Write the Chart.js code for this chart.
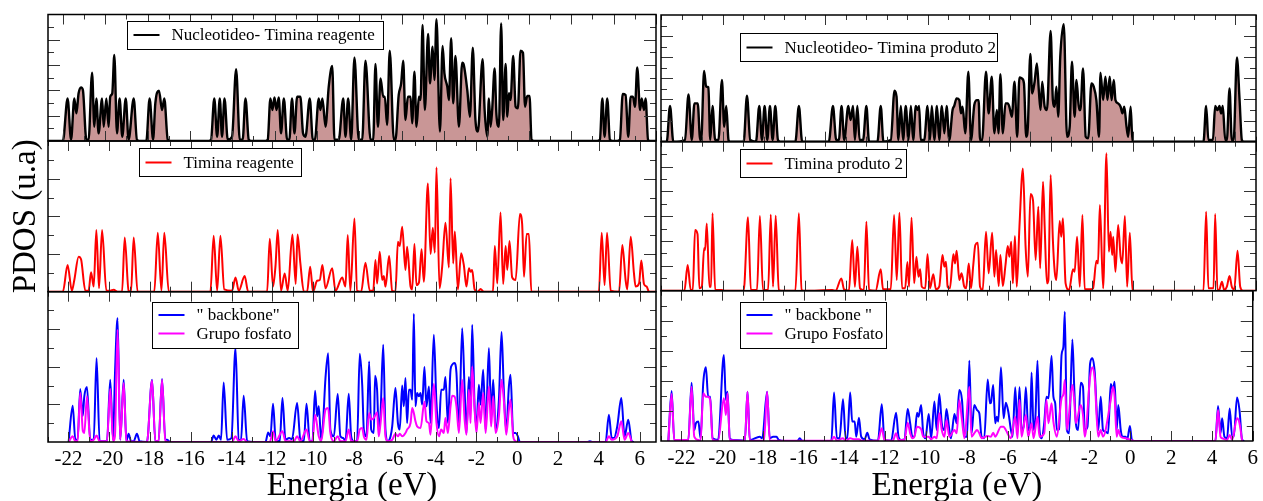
<!DOCTYPE html>
<html>
<head>
<meta charset="utf-8">
<script src="https://cdn.jsdelivr.net/npm/chart.js@4.4.1/dist/chart.umd.min.js"></script>
<style>
html, body { margin: 0; padding: 0; background: #fff; width: 1263px; height: 501px; overflow: hidden; }
canvas { position: absolute; }
</style>
</head>
<body>
<canvas id="tl"></canvas>
<canvas id="ml"></canvas>
<canvas id="bl"></canvas>
<canvas id="tr"></canvas>
<canvas id="mr"></canvas>
<canvas id="br"></canvas>
<script>
// PDOS curves: [energia (eV), PDOS (u.a)]
var nucReag = [[-23,0],[-22.27,0],[-22.04,3.37],[-21.87,0.1],[-21.71,3.37],[-21.61,2.19],[-21.50,3.77],[-21.38,4.24],[-21.29,4.03],[-21.12,0.1],[-21.01,0.1],[-20.84,5.40],[-20.73,1.13],[-20.63,3.37],[-20.52,0.61],[-20.35,3.37],[-20.27,1.13],[-20.14,3.37],[-20.03,1.13],[-19.95,3.50],[-19.85,3.77],[-19.75,6.80],[-19.62,0.61],[-19.49,3.37],[-19.36,0.34],[-19.19,3.37],[-19.05,0.1],[-18.80,3.37],[-18.64,0.1],[-18.47,0],[-18.18,0],[-18.02,3.37],[-17.85,0.1],[-17.74,2.98],[-17.56,3.98],[-17.41,2.45],[-17.30,3.37],[-17.13,0.1],[-17.0,0],[-15.17,0],[-15.01,0.1],[-14.85,3.37],[-14.71,0.34],[-14.58,3.37],[-14.47,0.34],[-14.35,3.37],[-14.19,0.1],[-13.98,0.34],[-13.78,5.67],[-13.60,0.1],[-13.46,0.1],[-13.32,3.37],[-13.16,0.1],[-13.05,0],[-12.34,0],[-12.23,0.1],[-12.10,3.37],[-12.00,2.45],[-11.90,3.45],[-11.80,2.45],[-11.69,3.45],[-11.58,0.61],[-11.44,3.37],[-11.28,0.1],[-11.17,0.1],[-11.04,3.37],[-10.92,0.61],[-10.79,3.50],[-10.63,3.50],[-10.50,0.61],[-10.38,0.34],[-10.17,3.37],[-10.02,0.1],[-9.92,0.1],[-9.73,3.37],[-9.65,2.45],[-9.55,3.37],[-9.40,1.13],[-9.24,4.30],[-9.07,5.93],[-8.96,0.1],[-8.75,0.1],[-8.53,3.37],[-8.42,0.34],[-8.29,3.37],[-8.14,0.1],[-7.98,6.61],[-7.77,0.1],[-7.60,0.1],[-7.44,6.35],[-7.19,0.1],[-7.06,0.1],[-6.95,6.09],[-6.83,1.13],[-6.70,4.95],[-6.57,3.50],[-6.49,3.50],[-6.38,1.26],[-6.25,7.14],[-6.05,0.1],[-5.97,0.1],[-5.81,3.64],[-5.69,4.56],[-5.59,6.35],[-5.48,1.66],[-5.36,3.50],[-5.23,3.50],[-5.15,1.40],[-5.04,5.48],[-4.94,1.13],[-4.82,3.50],[-4.74,3.24],[-4.64,9.17],[-4.53,2.45],[-4.37,8.46],[-4.28,4.56],[-4.15,7.46],[-4.06,4.82],[-3.96,9.62],[-3.79,0.74],[-3.66,7.51],[-3.57,5.35],[-3.43,4.30],[-3.35,3.24],[-3.24,8.12],[-3.14,2.98],[-3.03,6.72],[-2.86,1.13],[-2.70,6.19],[-2.62,6.01],[-2.45,4.03],[-2.32,1.92],[-2.18,7.38],[-2.05,1.66],[-1.93,0.74],[-1.70,6.46],[-1.60,2.45],[-1.47,0.34],[-1.39,3.37],[-1.31,1.13],[-1.23,2.45],[-1.11,5.74],[-1.02,2.06],[-0.90,1.13],[-0.79,9.30],[-0.69,1.66],[-0.57,6.09],[-0.49,1.92],[-0.41,3.77],[-0.33,3.24],[-0.20,6.72],[-0.08,2.71],[0.03,2.58],[0.16,7.14],[0.28,6.98],[0.38,2.71],[0.49,3.56],[0.60,3.56],[0.70,0.1],[0.82,0],[3.92,0],[4.05,0.1],[4.17,3.37],[4.28,0.34],[4.41,3.37],[4.54,0.1],[4.66,0],[4.90,0],[5.03,0.1],[5.17,3.72],[5.31,3.64],[5.44,0.34],[5.56,3.50],[5.67,3.50],[5.77,2.71],[5.88,5.82],[6.02,2.45],[6.10,3.37],[6.21,2.45],[6.29,3.37],[6.41,0.1],[6.51,0],[6.8,0]];

var timReag = [[-23,0],[-22.27,0],[-22.04,1.42],[-21.83,0.05],[-21.71,0.62],[-21.50,1.86],[-21.38,1.72],[-21.17,0.05],[-21.01,0.05],[-20.89,1.03],[-20.76,0.27],[-20.63,3.27],[-20.50,0.18],[-20.35,3.27],[-20.14,0.05],[-19.95,0.05],[-19.78,0.1],[-19.59,0],[-19.37,0],[-19.24,2.88],[-19.05,0.05],[-18.93,0],[-18.80,2.88],[-18.61,0],[-17.79,0],[-17.62,3.13],[-17.44,0.05],[-17.30,3.13],[-17.08,0],[-15.04,0],[-14.88,2.97],[-14.71,0.05],[-14.55,2.97],[-14.36,0.12],[-13.98,0.05],[-13.81,0.76],[-13.65,0.05],[-13.36,0.83],[-13.19,0],[-12.26,0],[-12.13,2.81],[-11.97,0.27],[-11.85,1.36],[-11.74,3.27],[-11.58,0.05],[-11.40,0.97],[-11.25,0.05],[-11.02,3.03],[-10.86,0.41],[-10.77,3.04],[-10.63,1.50],[-10.46,0],[-10.30,0],[-10.15,1.33],[-10.01,0],[-9.81,0.58],[-9.68,0.62],[-9.55,1.42],[-9.40,0.18],[-9.07,1.24],[-8.91,0.05],[-8.58,0.76],[-8.42,0.27],[-8.31,3.01],[-8.18,0.05],[-7.98,3.89],[-7.85,0.05],[-7.65,0],[-7.44,1.54],[-7.23,0.05],[-7.06,0.05],[-6.95,1.68],[-6.87,0.44],[-6.74,2.12],[-6.62,0.62],[-6.54,0.83],[-6.46,0.27],[-6.28,1.89],[-6.13,0.05],[-5.97,0],[-5.85,2.65],[-5.76,2.42],[-5.64,3.45],[-5.48,1.15],[-5.40,2.39],[-5.23,0.27],[-5.15,0.12],[-5.04,2.53],[-4.94,0.35],[-4.82,0.48],[-4.69,2.25],[-4.58,0.53],[-4.38,5.75],[-4.25,2.00],[-4.14,3.40],[-4.04,2.07],[-3.96,6.60],[-3.81,0.18],[-3.68,1.33],[-3.52,3.66],[-3.35,1.29],[-3.27,6.02],[-3.14,1.50],[-3.06,3.19],[-2.91,0.12],[-2.75,2.04],[-2.62,1.42],[-2.49,0.27],[-2.37,1.24],[-2.29,1.06],[-2.21,1.15],[-2.09,0.12],[-1.93,0],[-1.80,0.14],[-1.64,0],[-1.19,0],[-1.10,2.42],[-0.98,0.44],[-0.82,4.21],[-0.69,0.41],[-0.57,2.42],[-0.49,1.15],[-0.38,2.69],[-0.25,0.76],[-0.08,0.62],[0.13,4.12],[0.24,3.59],[0.33,0.80],[0.46,3.06],[0.57,3.06],[0.69,0],[4.00,0],[4.14,3.13],[4.28,0.35],[4.40,3.13],[4.58,0.05],[4.99,0],[5.15,2.48],[5.31,0.62],[5.39,0.12],[5.56,2.92],[5.72,0.97],[5.80,0.27],[5.97,0.44],[6.08,1.65],[6.21,0.41],[6.34,0.27],[6.46,0],[6.8,0]];

var bbReag = [[-21.99,0],[-21.79,1.93],[-21.66,0.12],[-21.55,0.12],[-21.42,2.82],[-21.30,1.37],[-21.22,2.43],[-21.09,2.93],[-20.93,0.12],[-20.76,0.12],[-20.62,4.47],[-20.47,0.04],[-20.11,0.04],[-19.95,3.32],[-19.81,0.12],[-19.72,3.53],[-19.59,6.60],[-19.46,0.12],[-19.29,3.32],[-19.16,0.04],[-19.05,0.44],[-18.93,0.04],[-18.80,0.04],[-18.64,0.44],[-18.51,0.04],[-18.15,0],[-17.90,3.32],[-17.74,0.04],[-17.58,0.04],[-17.41,3.35],[-17.25,0.12],[-17.17,0.12],[-17.00,0],[-15.01,0],[-14.88,0.34],[-14.75,0.12],[-14.63,0.34],[-14.52,0.12],[-14.39,3.17],[-14.22,0.12],[-14.01,0.21],[-13.81,5.00],[-13.65,0.12],[-13.54,0.09],[-13.41,2.46],[-13.24,0.04],[-12.92,0],[-12.34,0],[-12.21,0.51],[-12.10,0.30],[-11.97,2.04],[-11.84,0.12],[-11.64,0.04],[-11.51,2.34],[-11.36,0.12],[-11.18,0.21],[-11.04,0.16],[-10.79,2.07],[-10.63,0.12],[-10.46,0.04],[-10.33,2.04],[-10.17,0.04],[-10.04,0.04],[-9.91,2.73],[-9.81,1.37],[-9.73,1.90],[-9.61,0.12],[-9.52,1.01],[-9.40,3.40],[-9.27,4.73],[-9.16,0.66],[-8.99,0.30],[-8.80,2.55],[-8.67,0.30],[-8.53,0.21],[-8.42,0.04],[-8.26,2.57],[-8.14,0.30],[-8.01,0.04],[-7.85,0.04],[-7.72,4.70],[-7.60,3.05],[-7.52,0.66],[-7.39,0.30],[-7.26,4.29],[-7.16,0.66],[-7.03,0.48],[-6.97,3.53],[-6.87,2.78],[-6.79,0.66],[-6.70,1.54],[-6.57,5.18],[-6.46,0.66],[-6.34,0.04],[-6.21,0.30],[-6.13,0.83],[-5.97,2.87],[-5.85,1.01],[-5.76,0.66],[-5.64,3.01],[-5.56,1.90],[-5.48,3.40],[-5.40,1.01],[-5.31,2.78],[-5.23,2.78],[-5.15,2.25],[-5.07,6.83],[-4.99,1.90],[-4.91,2.61],[-4.82,2.43],[-4.74,2.61],[-4.66,1.99],[-4.55,3.99],[-4.45,1.90],[-4.33,2.96],[-4.25,1.01],[-4.09,5.71],[-3.96,2.07],[-3.84,0.74],[-3.73,2.78],[-3.60,2.78],[-3.52,3.46],[-3.40,1.01],[-3.27,3.85],[-3.19,4.11],[-3.08,4.20],[-2.98,3.67],[-2.86,0.66],[-2.70,6.06],[-2.58,2.78],[-2.49,0.48],[-2.37,3.46],[-2.29,1.72],[-2.21,6.24],[-2.09,1.90],[-2.00,0.83],[-1.88,3.05],[-1.80,1.99],[-1.67,3.85],[-1.55,0.66],[-1.39,5.00],[-1.28,1.37],[-1.18,3.32],[-1.06,0.66],[-0.90,2.25],[-0.77,5.85],[-0.66,2.78],[-0.54,0.57],[-0.41,2.96],[-0.33,3.58],[-0.20,0.48],[-0.08,0.48],[0.03,0.30],[0.13,0],[3.43,0],[3.56,0.04],[3.69,0],[4.33,0],[4.49,1.45],[4.63,0.21],[4.74,0.21],[4.90,0.83],[5.10,2.34],[5.26,0.30],[5.44,1.19],[5.61,0.04],[5.72,0]];

var fosReag = [[-21.99,0],[-21.79,0.30],[-21.66,0.04],[-21.55,0.04],[-21.42,2.61],[-21.29,0.57],[-21.22,0.48],[-21.09,2.43],[-20.93,0.04],[-20.76,0.12],[-20.62,0.34],[-20.47,0.04],[-20.11,0.04],[-19.95,2.84],[-19.81,0.04],[-19.72,0.30],[-19.59,5.98],[-19.46,0.12],[-19.29,3.14],[-19.16,0.04],[-18.15,0],[-17.90,3.28],[-17.74,0.04],[-17.58,0.04],[-17.41,3.32],[-17.25,0.04],[-17.00,0],[-13.98,0],[-13.81,0.30],[-13.65,0.04],[-13.41,0.16],[-13.24,0],[-12.13,0],[-11.97,0.57],[-11.84,0.04],[-11.51,0.57],[-11.36,0.04],[-10.95,0.04],[-10.79,0.30],[-10.63,0.04],[-10.33,0.66],[-10.17,0.04],[-10.04,0.04],[-9.91,1.45],[-9.73,0.30],[-9.61,0.04],[-9.40,1.72],[-9.27,1.81],[-9.16,0.48],[-8.99,0.04],[-8.80,0.30],[-8.67,0.04],[-8.42,0.04],[-8.26,0.66],[-8.14,0.04],[-7.85,0.04],[-7.72,0.66],[-7.60,0.74],[-7.52,0.30],[-7.39,0.12],[-7.26,1.54],[-7.16,1.19],[-7.03,1.28],[-6.87,1.58],[-6.79,0.30],[-6.70,1.01],[-6.57,2.34],[-6.46,0.30],[-6.34,0.04],[-6.13,0.12],[-5.97,0.44],[-5.85,0.30],[-5.76,0.44],[-5.64,0.30],[-5.48,0.48],[-5.40,0.66],[-5.23,1.01],[-5.15,1.81],[-5.07,1.54],[-4.99,1.10],[-4.91,0.83],[-4.74,0.74],[-4.55,2.16],[-4.45,1.10],[-4.33,1.01],[-4.25,0.39],[-4.09,3.10],[-3.96,1.01],[-3.84,0.30],[-3.73,0.66],[-3.60,0.48],[-3.52,1.28],[-3.40,0.48],[-3.27,1.90],[-3.19,2.46],[-3.08,2.43],[-2.98,1.90],[-2.86,0.48],[-2.70,3.32],[-2.58,1.19],[-2.49,0.39],[-2.37,2.78],[-2.29,1.01],[-2.21,4.02],[-2.09,1.72],[-2.00,0.48],[-1.88,2.07],[-1.80,1.01],[-1.67,2.61],[-1.55,0.48],[-1.39,2.96],[-1.28,0.83],[-1.18,2.43],[-1.06,0.48],[-0.90,1.37],[-0.77,3.32],[-0.66,2.25],[-0.54,0.39],[-0.41,1.72],[-0.33,2.25],[-0.20,0.30],[-0.08,0.04],[0.08,0],[4.33,0],[4.49,0.30],[4.63,0.12],[4.90,0.30],[5.10,1.10],[5.26,0.12],[5.44,0.48],[5.61,0]];

var nucProd = [[-23,0],[-22.72,0],[-22.56,3.38],[-22.40,0],[-21.83,0.16],[-21.66,4.48],[-21.50,0.16],[-21.37,3.63],[-21.21,3.63],[-21.09,0.16],[-21.04,0.16],[-20.90,6.69],[-20.80,5.21],[-20.69,5.14],[-20.60,0.16],[-20.49,3.38],[-20.36,0.16],[-20.20,0.16],[-20.03,5.84],[-19.92,1.42],[-19.82,3.38],[-19.71,0.16],[-19.63,0],[-18.97,0],[-18.81,4.35],[-18.65,0.16],[-18.37,0],[-18.21,3.38],[-18.08,0.16],[-17.95,3.38],[-17.82,0.16],[-17.69,3.38],[-17.56,0.16],[-17.43,3.38],[-17.30,0.16],[-17.18,0],[-16.45,0],[-16.28,3.38],[-16.12,0],[-14.82,0],[-14.62,3.38],[-14.46,0.16],[-14.33,0.16],[-14.20,3.38],[-14.07,0.16],[-13.87,3.38],[-13.76,2.05],[-13.64,3.38],[-13.55,0.16],[-13.43,3.38],[-13.32,0.16],[-13.15,0.16],[-12.99,3.38],[-12.86,0],[-12.45,0],[-12.29,3.38],[-12.16,0],[-11.80,0.16],[-11.62,4.83],[-11.52,4.26],[-11.43,0.16],[-11.31,3.38],[-11.20,0.16],[-11.07,3.38],[-10.94,0.16],[-10.82,3.38],[-10.71,0.16],[-10.58,3.38],[-10.50,3.00],[-10.42,3.38],[-10.34,0.16],[-10.17,0.16],[-10.01,3.38],[-9.89,0.16],[-9.80,3.38],[-9.68,0.16],[-9.55,3.38],[-9.44,0.16],[-9.31,3.38],[-9.19,0.79],[-9.08,3.38],[-8.95,0.16],[-8.79,3.00],[-8.71,3.38],[-8.59,4.10],[-8.46,3.94],[-8.38,2.68],[-8.30,3.31],[-8.17,0.79],[-8.02,6.62],[-7.89,0.16],[-7.73,3.47],[-7.60,3.94],[-7.52,3.94],[-7.45,0.16],[-7.35,0.16],[-7.16,6.62],[-7.03,2.68],[-6.88,6.15],[-6.75,0.79],[-6.63,3.00],[-6.55,0.79],[-6.46,6.40],[-6.34,0.79],[-6.21,3.63],[-6.10,3.63],[-6.02,3.31],[-5.90,2.37],[-5.77,5.68],[-5.64,0.47],[-5.53,6.09],[-5.41,5.99],[-5.31,5.52],[-5.20,0.47],[-5.12,1.42],[-5.00,8.30],[-4.91,4.57],[-4.79,5.68],[-4.68,7.41],[-4.58,4.73],[-4.50,3.00],[-4.42,5.68],[-4.30,3.31],[-4.19,3.00],[-4.01,10.50],[-3.90,3.94],[-3.81,3.31],[-3.73,5.21],[-3.64,2.37],[-3.54,8.04],[-3.37,11.14],[-3.21,0.47],[-3.08,1.42],[-2.97,7.57],[-2.84,2.37],[-2.75,5.84],[-2.62,3.00],[-2.56,3.00],[-2.43,6.94],[-2.30,0.47],[-2.18,0.32],[-2.02,5.52],[-1.91,5.21],[-1.78,3.94],[-1.65,0.47],[-1.58,6.53],[-1.45,3.94],[-1.34,6.15],[-1.24,3.94],[-1.13,6.15],[-1.04,3.94],[-0.93,5.84],[-0.85,3.94],[-0.72,3.63],[-0.60,3.31],[-0.51,2.68],[-0.42,3.31],[-0.31,1.42],[-0.23,0.47],[-0.11,3.31],[-0.02,0],[3.44,0],[3.57,3.38],[3.68,0.16],[3.90,0.16],[4.01,3.38],[4.12,3.00],[4.22,3.38],[4.30,2.68],[4.38,3.38],[4.50,0.16],[4.58,0.16],[4.71,5.05],[4.82,0.16],[4.91,0.16],[5.07,7.98],[5.20,3.94],[5.31,0.16],[5.40,0],[6,0]];

var timProd = [[-23,0],[-21.86,0],[-21.70,2.07],[-21.55,0.05],[-21.45,0.05],[-21.34,4.89],[-21.22,4.56],[-21.13,0.19],[-21.01,0.32],[-20.90,3.41],[-20.85,3.28],[-20.77,5.42],[-20.64,0.32],[-20.56,0.32],[-20.49,6.23],[-20.36,0.05],[-20.03,0.05],[-19.87,0],[-18.97,0],[-18.76,5.91],[-18.62,0.05],[-18.32,0.05],[-18.18,6.01],[-18.03,0.05],[-17.78,0.05],[-17.65,6.12],[-17.54,0.32],[-17.41,6.04],[-17.26,0.05],[-17.02,0],[-16.45,0],[-16.28,6.23],[-16.15,0.05],[-15.96,0],[-14.65,0.05],[-14.49,0],[-14.21,0.99],[-14.08,0.11],[-13.84,0],[-13.68,4.08],[-13.55,0.32],[-13.43,3.54],[-13.30,0.19],[-13.11,0.05],[-12.99,5.56],[-12.86,0.05],[-12.54,0],[-12.29,1.72],[-12.18,0.11],[-11.80,0.11],[-11.64,6.09],[-11.51,0.86],[-11.38,6.28],[-11.25,0.19],[-11.10,0.19],[-10.99,2.31],[-10.91,0.32],[-10.79,5.88],[-10.66,0.59],[-10.55,2.74],[-10.45,1.13],[-10.37,1.72],[-10.29,0.32],[-10.12,0.19],[-10.01,2.93],[-9.89,0.19],[-9.73,1.32],[-9.60,0.11],[-9.44,0.32],[-9.28,2.87],[-9.19,1.93],[-9.11,2.34],[-9.03,0.32],[-8.92,0.19],[-8.75,2.93],[-8.67,2.20],[-8.59,3.22],[-8.46,0.86],[-8.35,1.40],[-8.22,0.32],[-8.13,0.19],[-8.00,2.20],[-7.89,0.19],[-7.78,2.07],[-7.68,3.68],[-7.56,3.87],[-7.45,0.32],[-7.32,0.05],[-7.16,4.75],[-7.03,1.40],[-6.86,4.67],[-6.75,1.13],[-6.67,3.28],[-6.54,0.38],[-6.46,2.87],[-6.34,0.38],[-6.21,2.07],[-6.10,3.60],[-6.02,2.74],[-5.93,3.95],[-5.85,0.59],[-5.75,4.40],[-5.66,0.32],[-5.53,5.15],[-5.36,9.85],[-5.23,3.54],[-5.12,1.13],[-4.99,7.79],[-4.87,7.30],[-4.74,2.47],[-4.61,6.77],[-4.52,1.80],[-4.38,8.78],[-4.30,5.15],[-4.19,0.59],[-4.12,0.86],[-4.01,9.32],[-3.90,4.08],[-3.81,1.53],[-3.73,0.86],[-3.57,5.61],[-3.49,4.35],[-3.41,5.83],[-3.28,0.59],[-3.11,0.05],[-2.92,1.72],[-2.84,1.53],[-2.72,4.35],[-2.59,0.32],[-2.46,6.09],[-2.35,0.11],[-2.07,0.11],[-1.94,0.19],[-1.78,2.42],[-1.70,2.20],[-1.61,6.90],[-1.45,0.19],[-1.29,11.06],[-1.17,3.14],[-1.09,4.75],[-1.01,2.87],[-0.96,4.35],[-0.85,1.53],[-0.72,5.29],[-0.60,2.74],[-0.52,2.20],[-0.39,6.01],[-0.28,0.32],[-0.15,4.67],[-0.02,0],[3.44,0],[3.57,6.36],[3.68,0.19],[3.93,0.19],[4.01,6.17],[4.12,0.05],[4.22,0.11],[4.34,0.72],[4.45,0.05],[4.58,0.32],[4.71,1.18],[4.82,0.32],[4.94,0.11],[5.10,3.22],[5.23,0.32],[5.36,0],[6,0]];

var bbProd = [[-22.64,0],[-22.48,3.33],[-22.35,0.07],[-21.66,0.07],[-21.50,3.88],[-21.37,0.73],[-21.29,1.18],[-21.17,1.29],[-21.06,0.18],[-20.93,3.84],[-20.80,4.90],[-20.69,2.95],[-20.59,2.95],[-20.47,0.18],[-20.20,0.07],[-19.92,5.72],[-19.82,2.73],[-19.74,3.28],[-19.63,0.18],[-19.46,0.07],[-18.89,0.02],[-18.76,3.28],[-18.65,0.07],[-18.16,0.29],[-18.04,0.18],[-17.80,3.28],[-17.67,0.18],[-17.51,0.29],[-17.34,0.29],[-17.23,0.07],[-16.94,0],[-16.32,0],[-16.20,0.18],[-16.09,0.02],[-15.63,0],[-14.65,0.02],[-14.52,3.22],[-14.38,0.18],[-14.25,0.18],[-14.08,2.77],[-13.95,0.18],[-13.87,0.18],[-13.73,3.22],[-13.63,1.29],[-13.51,1.29],[-13.43,0.29],[-13.30,1.55],[-13.19,0.29],[-13.02,0.11],[-12.89,0.55],[-12.78,0.11],[-12.37,0.02],[-12.18,2.44],[-12.05,0.07],[-11.72,0.02],[-11.48,1.88],[-11.36,0.29],[-11.23,0.07],[-11.07,0.11],[-10.91,2.13],[-10.79,1.18],[-10.68,0.29],[-10.58,0.29],[-10.45,1.88],[-10.38,1.62],[-10.25,2.39],[-10.15,0.51],[-10.04,0.18],[-9.88,1.80],[-9.76,0.18],[-9.60,2.62],[-9.49,0.73],[-9.36,3.13],[-9.24,1.18],[-9.11,0.73],[-9.01,2.13],[-8.87,0.73],[-8.79,0.18],[-8.62,1.80],[-8.51,1.18],[-8.38,3.39],[-8.25,2.73],[-8.13,0.29],[-8.00,0.29],[-7.89,5.34],[-7.78,0.51],[-7.65,2.39],[-7.51,2.06],[-7.40,1.84],[-7.29,0.29],[-7.16,0.18],[-6.99,4.10],[-6.88,2.51],[-6.83,2.55],[-6.72,3.73],[-6.62,1.18],[-6.54,1.62],[-6.47,1.29],[-6.34,4.90],[-6.21,1.51],[-6.10,2.55],[-5.98,1.95],[-5.85,0.73],[-5.77,0.29],[-5.64,3.57],[-5.53,0.73],[-5.43,3.57],[-5.33,0.73],[-5.23,0.95],[-5.12,3.57],[-5.00,0.73],[-4.91,0.95],[-4.84,4.55],[-4.74,0.73],[-4.65,1.62],[-4.55,5.34],[-4.45,0.73],[-4.35,0.18],[-4.22,1.18],[-4.11,2.95],[-4.01,2.84],[-3.86,5.65],[-3.77,2.95],[-3.68,2.51],[-3.60,0.73],[-3.49,0.78],[-3.37,5.72],[-3.28,6.27],[-3.21,8.60],[-3.11,0.73],[-3.00,0.51],[-2.84,6.76],[-2.75,3.61],[-2.67,1.18],[-2.56,0.73],[-2.43,3.88],[-2.32,3.61],[-2.23,0.73],[-2.10,0.95],[-1.97,5.17],[-1.86,5.50],[-1.74,4.50],[-1.65,2.06],[-1.57,0.73],[-1.45,2.95],[-1.34,0.73],[-1.21,0.62],[-1.09,0.51],[-0.96,3.79],[-0.85,3.39],[-0.77,3.95],[-0.67,0.73],[-0.59,2.39],[-0.47,0.73],[-0.39,0.29],[-0.23,0.29],[-0.15,0.11],[-0.02,1.00],[0.07,0.11],[0.18,0],[4.17,0],[4.30,2.33],[4.42,0.51],[4.50,1.51],[4.61,0.29],[4.74,0.18],[4.87,2.17],[4.99,0.29],[5.07,0.29],[5.23,2.90],[5.35,2.06],[5.48,0.07],[5.59,0]];

var fosProd = [[-22.64,0],[-22.48,3.13],[-22.35,0.07],[-21.66,0.07],[-21.50,3.61],[-21.37,0.29],[-21.17,0.07],[-21.06,0.02],[-20.93,3.17],[-20.80,2.95],[-20.69,2.95],[-20.59,2.73],[-20.47,0.07],[-20.20,0.02],[-19.92,2.84],[-19.82,1.73],[-19.74,3.17],[-19.63,0.07],[-18.89,0.02],[-18.76,3.28],[-18.65,0.02],[-17.95,0.02],[-17.80,3.28],[-17.67,0.02],[-14.65,0.02],[-14.52,0.29],[-14.38,0.02],[-14.08,0.18],[-13.95,0.02],[-13.73,0.18],[-13.51,0.11],[-13.30,0.11],[-13.15,0.02],[-12.37,0.02],[-12.18,0.84],[-12.05,0.07],[-11.64,0.02],[-11.48,0.51],[-11.36,0.07],[-11.07,0.07],[-10.91,1.22],[-10.79,0.51],[-10.68,0.18],[-10.58,0.29],[-10.45,0.95],[-10.25,0.78],[-10.15,0.29],[-9.88,0.29],[-9.76,0.11],[-9.60,0.29],[-9.49,0.18],[-9.36,1.84],[-9.24,0.73],[-9.11,0.29],[-9.01,1.40],[-8.87,0.29],[-8.62,0.73],[-8.51,0.51],[-8.38,2.73],[-8.25,1.40],[-8.13,0.18],[-7.89,3.61],[-7.78,0.29],[-7.65,0.51],[-7.51,0.73],[-7.40,0.51],[-7.29,0.18],[-6.99,0.33],[-6.83,0.29],[-6.72,0.55],[-6.62,0.29],[-6.34,0.95],[-6.21,0.95],[-6.10,0.73],[-5.85,0.18],[-5.64,1.62],[-5.53,0.18],[-5.43,2.73],[-5.33,0.29],[-5.12,1.73],[-5.00,0.29],[-4.84,1.18],[-4.74,0.18],[-4.55,1.62],[-4.45,0.29],[-4.22,0.51],[-4.11,2.73],[-4.01,1.18],[-3.86,2.51],[-3.77,1.29],[-3.60,0.29],[-3.37,2.84],[-3.28,3.13],[-3.21,4.06],[-3.11,0.73],[-2.84,3.73],[-2.75,2.73],[-2.67,1.18],[-2.43,2.39],[-2.32,1.73],[-2.23,0.29],[-1.97,4.28],[-1.86,4.90],[-1.74,4.06],[-1.65,1.62],[-1.57,0.29],[-1.45,0.73],[-1.34,0.29],[-0.96,2.73],[-0.85,3.61],[-0.77,2.95],[-0.67,0.29],[-0.59,0.73],[-0.47,0.29],[-0.23,0.18],[0.04,0.07],[0.18,0],[4.17,0],[4.30,2.06],[4.42,0.29],[4.50,0.18],[4.74,0.07],[4.87,0.40],[4.99,0.07],[5.23,1.51],[5.35,1.18],[5.48,0]];

var energyTicks = [-22, -20, -18, -16, -14, -12, -10, -8, -6, -4, -2, 0, 2, 4, 6];

var serif = '"Liberation Serif", "Times New Roman", "DejaVu Serif", serif';
Chart.defaults.font.family = serif;
Chart.defaults.color = '#000';

function pts(arr) {
    return arr.map(function(p) { return {x: p[0], y: p[1]}; });
}

// xmgrace style frame with inward ticks on all four sides
var framePlugin = {
    id: 'frame',
    afterDatasetsDraw: function(chart, args, o) {
        var ctx = chart.ctx, a = chart.chartArea;
        var xs = chart.scales.x, ys = chart.scales.y;
        var tr = o.tickRange;
        var xpx = function(v) {
            if (tr) return a.left + (v - tr[0]) / (tr[1] - tr[0]) * (a.right - a.left);
            return xs.getPixelForValue(v);
        };
        var lo = tr ? tr[0] : xs.min, hi = tr ? tr[1] : xs.max;
        ctx.save();
        ctx.strokeStyle = '#333';
        ctx.lineWidth = 1;
        ctx.beginPath();
        for (var v = Math.ceil(lo); v <= hi + 1e-6; v++) {
            var len = (v % o.xMajor === 0) ? 10 : 5;
            var p = Math.round(xpx(v)) + 0.5;
            ctx.moveTo(p, a.bottom); ctx.lineTo(p, a.bottom - len);
            ctx.moveTo(p, a.top); ctx.lineTo(p, a.top + len);
        }
        for (var w = ys.min + 1; w < ys.max; w++) {
            var ln = (w % 2 === 0) ? 12 : 6;
            var q = Math.round(ys.getPixelForValue(w)) + 0.5;
            ctx.moveTo(a.left, q); ctx.lineTo(a.left + ln, q);
            ctx.moveTo(a.right, q); ctx.lineTo(a.right - ln, q);
        }
        ctx.stroke();
        ctx.strokeStyle = '#000';
        ctx.lineWidth = 1.5;
        ctx.strokeRect(a.left, a.top, a.right - a.left, a.bottom - a.top);
        ctx.restore();
    }
};

// boxed legend placed inside the panel, like the original
var boxLegend = {
    id: 'boxLegend',
    afterDraw: function(chart, args, o) {
        if (!o.box) return;
        var ctx = chart.ctx, a = chart.chartArea;
        var x = Math.round(a.left + o.box[0]) + 0.5, y = Math.round(a.top + o.box[1]) + 0.5;
        ctx.save();
        ctx.fillStyle = '#fff';
        ctx.fillRect(x, y, o.box[2], o.box[3]);
        ctx.strokeStyle = '#000';
        ctx.lineWidth = 1;
        ctx.strokeRect(x, y, o.box[2], o.box[3]);
        ctx.font = '17px ' + serif;
        ctx.textBaseline = 'middle';
        chart.data.datasets.forEach(function(ds, i) {
            var ly = y + o.rows[i];
            ctx.strokeStyle = ds.borderColor;
            ctx.lineWidth = 2;
            ctx.beginPath();
            ctx.moveTo(x + 6, ly); ctx.lineTo(x + 32, ly);
            ctx.stroke();
            ctx.fillStyle = '#000';
            ctx.fillText(ds.label, x + 44, ly + 1);
        });
        ctx.restore();
    }
};

function panel(id, box, area, xr, ymax, datasets, extra) {
    var cv = document.getElementById(id);
    cv.width = box[2];
    cv.height = box[3];
    cv.style.left = box[0] + 'px';
    cv.style.top = box[1] + 'px';
    var bottomAxis = !!extra.bottomAxis;
    var yTitle = !!extra.yTitle;
    var pad = {
        left: yTitle ? 0 : area[0] - box[0],
        top: area[1] - box[1],
        right: box[0] + box[2] - area[2],
        bottom: bottomAxis ? 0 : box[1] + box[3] - area[3]
    };
    var xScale = {
        type: 'linear', min: xr[0], max: xr[1], display: bottomAxis
    };
    if (bottomAxis) {
        xScale.grid = {display: false, drawTicks: false};
        xScale.border = {display: false};
        xScale.ticks = {
            font: {size: 21}, color: '#000', padding: 5, autoSkip: false, maxRotation: 0,
            callback: function(v) { return String(v); }
        };
        xScale.afterBuildTicks = function(s) {
            s.ticks = energyTicks.map(function(v) { return {value: v}; });
        };
        xScale.afterFit = function(s) { s.height = box[1] + box[3] - area[3]; };
        xScale.title = {
            display: true, text: 'Energia (eV)', color: '#000',
            font: {size: 33, lineHeight: 0.9}, padding: 0
        };
    }
    var yScale = {min: 0, max: ymax, display: yTitle};
    if (yTitle) {
        yScale.grid = {display: false, drawTicks: false};
        yScale.border = {display: false};
        yScale.ticks = {display: false};
        yScale.afterFit = function(s) { s.width = area[0] - box[0]; };
        yScale.title = {
            display: true, text: 'PDOS (u.a)', color: '#000',
            font: {size: 33, lineHeight: 1}, padding: {top: 9.5, bottom: 0}
        };
    }
    return new Chart(cv, {
        type: 'line',
        data: {datasets: datasets},
        options: {
            responsive: false,
            animation: false,
            events: [],
            layout: {padding: pad, autoPadding: false},
            elements: {
                point: {radius: 0},
                line: {cubicInterpolationMode: 'monotone', borderJoinStyle: 'round'}
            },
            scales: {x: xScale, y: yScale},
            plugins: {
                legend: {display: false},
                tooltip: {enabled: false},
                frame: {xMajor: extra.xMajor || 2, tickRange: extra.tickRange},
                boxLegend: extra.legend || {}
            }
        },
        plugins: [framePlugin, boxLegend]
    });
}

function line(label, data, color, width, order) {
    return {label: label, data: pts(data), borderColor: color, borderWidth: width, fill: false, order: order || 0};
}

// left column: reagente
var tlSet = line('Nucleotideo- Timina reagente', nucReag, '#000', 2.4);
tlSet.fill = 'origin';
tlSet.backgroundColor = '#c99696';
panel('tl', [38, 4, 628, 147], [48, 14.5, 656, 141], [-23, 6.8], 10, [tlSet],
    {tickRange: [-22.7, 6], legend: {box: [79, 6, 256, 28], rows: [13.5]}});

panel('ml', [0, 131, 666, 170], [48, 141, 656, 291.7], [-23, 6.8], 8,
    [line('Timina reagente', timReag, '#ff0000', 2)],
    {yTitle: true, legend: {box: [91, 7, 162, 28], rows: [14]}});

panel('bl', [20, 282, 646, 219], [48, 291.7, 656, 442], [-23, 6.8], 8,
    [line('" backbone"', bbReag, '#0000ff', 2, 1), line('Grupo fosfato', fosReag, '#ff00ff', 2, 0)],
    {bottomAxis: true, legend: {box: [104, 10, 146, 46], rows: [12.5, 31]}});

// right column: produto 2
var trSet = line('Nucleotideo- Timina produto 2', nucProd, '#000', 2.4);
trSet.fill = 'origin';
trSet.backgroundColor = '#c99696';
panel('tr', [651, 5, 612, 146], [661, 15, 1256, 141.7], [-23, 6], 12, [trSet],
    {xMajor: 5, legend: {box: [79, 18, 257, 28], rows: [14]}});

panel('mr', [651, 131, 612, 170], [661, 141.7, 1256, 290.7], [-23, 6], 12,
    [line('Timina produto 2', timProd, '#ff0000', 2)],
    {legend: {box: [79, 7.5, 166, 28], rows: [14]}});

panel('br', [630, 281, 633, 220], [661, 290.7, 1256, 441], [-23, 6], 10,
    [line('" backbone "', bbProd, '#0000ff', 2, 1), line('Grupo Fosfato', fosProd, '#ff00ff', 2, 0)],
    {bottomAxis: true, legend: {box: [79, 11, 146, 46], rows: [12.5, 31]}});
</script>
</body>
</html>
